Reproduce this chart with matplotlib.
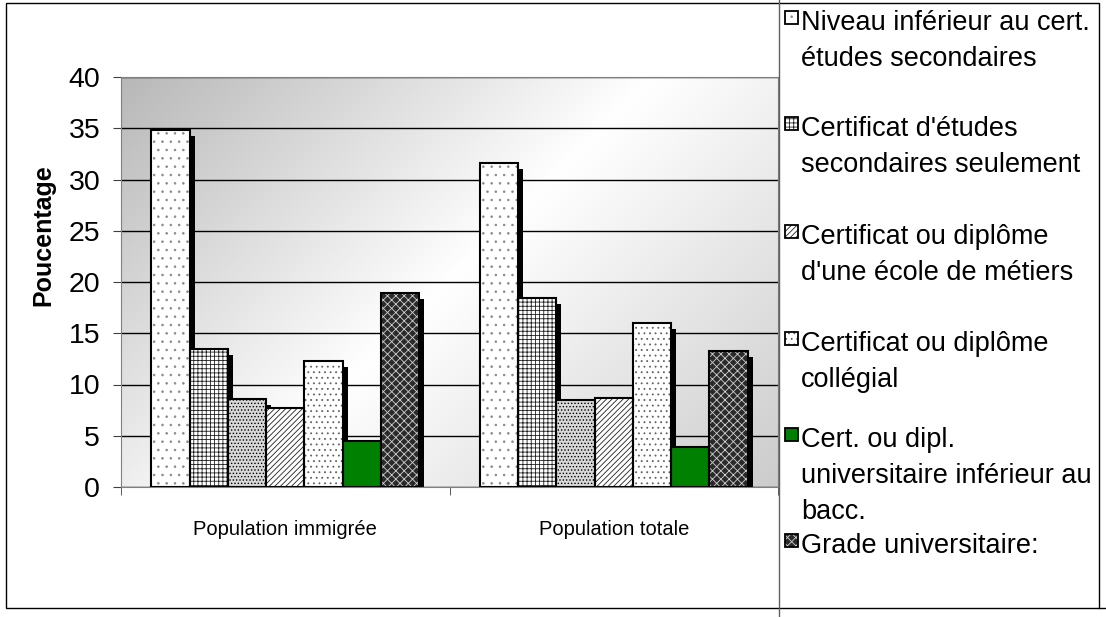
import matplotlib.pyplot as plt
import matplotlib.transforms as mtransforms
from matplotlib.patches import Rectangle
from matplotlib.lines import Line2D
import numpy as np

plt.rcParams['font.family'] = ['Liberation Sans', 'DejaVu Sans']
plt.rcParams['hatch.linewidth'] = 0.6

# data (percent)
groups = ['Population immigrée', 'Population totale']
series_labels = [
    'Niveau inférieur au cert.\nétudes secondaires',
    "Certificat d'études\nsecondaires seulement",
    None,  # this bar has no entry in the legend
    "Certificat ou diplôme\nd'une école de métiers",
    'Certificat ou diplôme\ncollégial',
    'Cert. ou dipl.\nuniversitaire inférieur au\nbacc.',
    'Grade universitaire:',
]
immigree = [34.8, 13.5, 8.6, 7.7, 12.3, 4.5, 18.9]
totale = [31.6, 18.4, 8.5, 8.7, 16.0, 3.9, 13.3]
yticks = [0, 5, 10, 15, 20, 25, 30, 35, 40]

# face colour, hatch colour, hatch
styles = [
    ('white', '#8a8a8a', '..'),
    ('white', '#202020', '++++'),
    ('#d8d8d8', '#000000', '.....'),
    ('white', '#202020', '//////'),
    ('white', '#606060', '...'),
    ('#008000', 'none', ''),
    ('#2a2a2a', '#d0d0d0', 'xxxx'),
]

W, H = 1106, 617
fig = plt.figure(figsize=(W / 100, H / 100), dpi=100)


def fx(x):
    return x / W


def fy(y):
    return 1 - y / H


ax = fig.add_axes([fx(121), fy(487), (778 - 121) / W, (487 - 77) / H])

# grey diagonal gradient behind the plot
u, v = np.meshgrid(np.linspace(0, 1, 400), np.linspace(1, 0, 250))
t = (u * 657 + (1 - v) * 410) / (657 + 410)
g = np.interp(t, [0, 0.5, 1], [0.72, 1.0, 0.8])
ax.imshow(np.dstack([g, g, g]), extent=[0, 1, 0, 1], transform=ax.transAxes,
          aspect='auto', zorder=0)

x = np.arange(len(groups))
n = len(series_labels)
w = 0.816 / n
shadow = mtransforms.offset_copy(ax.transData, fig=fig, x=5, y=-6, units='dots')
for i in range(n):
    vals = [immigree[i], totale[i]]
    pos = x - 0.408 + w * (i + 0.5)
    face, hc, h = styles[i]
    ax.bar(pos, vals, w, color='black', lw=0, transform=shadow, zorder=2)
    ax.bar(pos, vals, w, color=face, edgecolor=hc, hatch=h, lw=0, zorder=3)
    ax.bar(pos, vals, w, fill=False, edgecolor='black', lw=1.5, zorder=4)

ax.set_xlim(-0.5, 1.5)
ax.set_ylim(0, 40)
ax.set_yticks(yticks)
ax.yaxis.grid(True, color='black', lw=1)
ax.set_axisbelow(True)
for s in ax.spines.values():
    s.set_color('#808080')
ax.tick_params(axis='y', labelsize=20.5, length=6, pad=9, color='#404040')
ax.set_xticks(x)
ax.set_xticklabels(groups)
ax.tick_params(axis='x', which='major', length=0, pad=24, labelsize=14.5)
ax.set_xticks([-0.5, 0.5, 1.5], minor=True)
ax.tick_params(axis='x', which='minor', length=6, color='#404040')
ax.set_ylabel('Poucentage', fontsize=18, fontweight='bold')
ax.yaxis.set_label_coords(-0.1, 0.615)

# legend drawn by hand on the right
baselines = [30, 136, 244, 351, 447, 553]
lh = 36
k = 0
for i in range(n):
    if series_labels[i] is None:
        continue
    b = baselines[k]
    k += 1
    face, hc, h = styles[i]
    fig.add_artist(Rectangle((fx(785), fy(b - 6)), 13 / W, 13 / H, transform=fig.transFigure,
                             facecolor=face, edgecolor=hc, hatch=h, lw=0))
    fig.add_artist(Rectangle((fx(785), fy(b - 6)), 13 / W, 13 / H, transform=fig.transFigure,
                             fill=False, edgecolor='black', lw=1.3))
    for j, line in enumerate(series_labels[i].split('\n')):
        fig.text(fx(801), fy(b + j * lh), line, fontsize=19.5, va='baseline', ha='left')

# frame around the chart and the legend
fig.add_artist(Rectangle((fx(6), fy(608)), (1099 - 6) / W, (608 - 3) / H, fill=False,
                         edgecolor='black', lw=1, transform=fig.transFigure))
fig.add_artist(Line2D([fx(779), fx(779)], [0, 1], color='#606060', lw=1,
                      transform=fig.transFigure))
fig.add_artist(Line2D([fx(1099), fx(1106)], [fy(608), fy(608)], color='black', lw=1,
                      transform=fig.transFigure))

fig.savefig('out.png', dpi=100)
